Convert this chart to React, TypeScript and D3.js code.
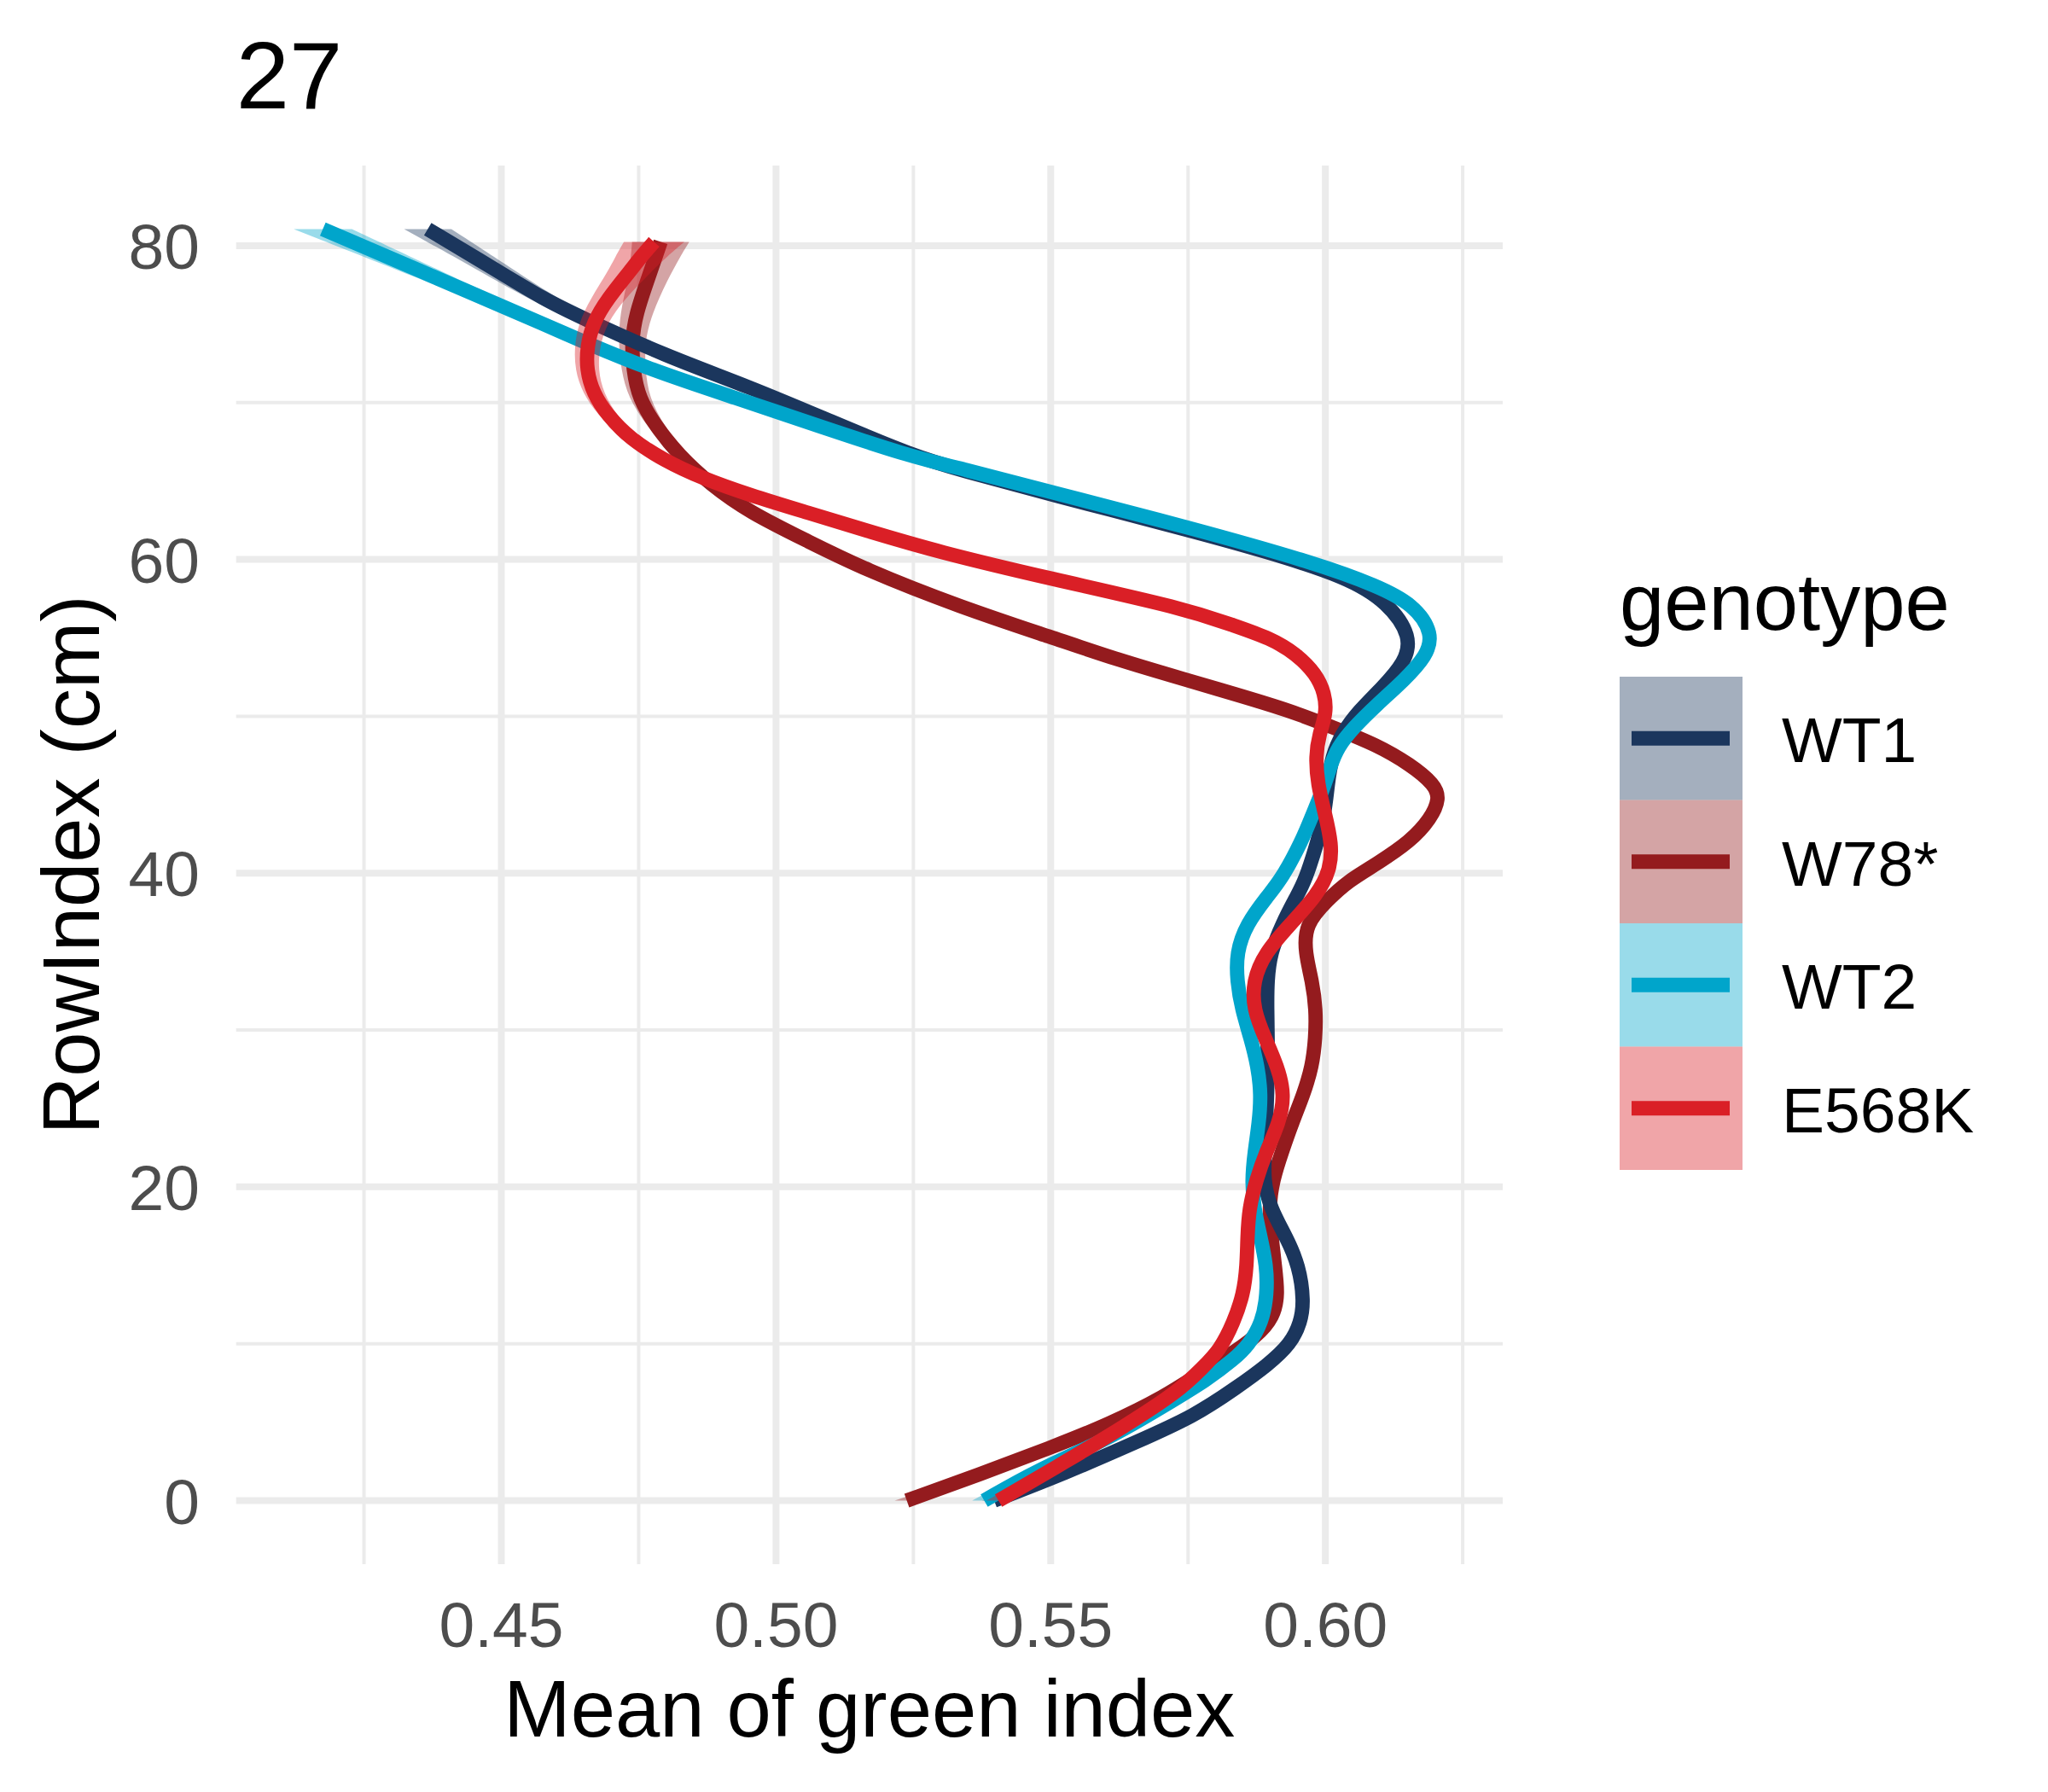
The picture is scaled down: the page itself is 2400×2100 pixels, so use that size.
import React from "react";
import * as d3 from "d3";

// ---- data: [RowIndex (cm), mean green index, ribbon half-width] ----
const WT1: [number, number, number][] = [
  [0, 0.5397, 0.0022], [1.76, 0.5527, 0.0016], [3.75, 0.5657, 0.0012], [5.4, 0.5762, 0.001],
  [7.2, 0.5838, 0.001], [8.64, 0.5895, 0.001], [10.0, 0.5937, 0.001], [11.36, 0.5955, 0.001],
  [12.7, 0.5961, 0.001], [14.98, 0.5952, 0.001], [16.79, 0.5929, 0.001], [18.62, 0.59, 0.001],
  [20.43, 0.5887, 0.001], [22.25, 0.589, 0.001], [24.06, 0.5892, 0.001], [25.87, 0.5894, 0.001],
  [27.68, 0.5895, 0.001], [29.49, 0.5895, 0.001], [31.3, 0.5894, 0.001], [33.12, 0.5894, 0.001],
  [34.93, 0.59, 0.001], [36.74, 0.5921, 0.001], [38.55, 0.5948, 0.001], [39.5, 0.5963, 0.001],
  [42.03, 0.5986, 0.001], [43.84, 0.5999, 0.001], [45.65, 0.6004, 0.001], [47.46, 0.6012, 0.001],
  [48.9, 0.603, 0.001], [50.36, 0.6061, 0.001], [51.8, 0.6103, 0.001], [53.44, 0.6145, 0.001],
  [55.07, 0.6157, 0.001], [57.25, 0.6114, 0.001], [58.88, 0.6041, 0.001], [60.6, 0.5884, 0.001],
  [61.8, 0.576, 0.001], [64.15, 0.55, 0.001], [65.7, 0.5336, 0.0011], [66.6, 0.525, 0.0012],
  [68.8, 0.51, 0.0014], [71.0, 0.4952, 0.0017], [73.0, 0.4797, 0.002], [75.5, 0.4641, 0.0024],
  [76.56, 0.4579, 0.0027], [78.44, 0.4491, 0.0033], [81.06, 0.4366, 0.0043],
];

const W78: [number, number, number][] = [
  [0, 0.5238, 0.0022], [1.67, 0.5371, 0.0016], [3.39, 0.5501, 0.0012], [4.84, 0.5605, 0.001],
  [6.65, 0.5709, 0.001], [8.1, 0.5771, 0.001], [9.1, 0.5818, 0.001], [10.45, 0.5875, 0.001],
  [11.72, 0.5906, 0.001], [13.17, 0.5914, 0.001], [14.98, 0.5908, 0.001], [16.8, 0.5902, 0.001],
  [18.62, 0.5897, 0.001], [20.43, 0.5904, 0.001], [22.25, 0.5921, 0.001], [24.06, 0.5939, 0.001],
  [25.87, 0.596, 0.001], [27.68, 0.5976, 0.001], [29.49, 0.5982, 0.001], [31.3, 0.5983, 0.001],
  [33.12, 0.5976, 0.001], [34.93, 0.5963, 0.001], [36.74, 0.5963, 0.001], [38.3, 0.6004, 0.001],
  [39.49, 0.6041, 0.001], [40.58, 0.6093, 0.001], [42.03, 0.6155, 0.001], [43.48, 0.6192, 0.001],
  [44.75, 0.6208, 0.001], [45.65, 0.6199, 0.001], [46.92, 0.6155, 0.001], [48.19, 0.6093, 0.001],
  [49.28, 0.6015, 0.001], [50.36, 0.5936, 0.001], [51.45, 0.5832, 0.001], [52.34, 0.5745, 0.001],
  [53.6, 0.5622, 0.001], [55.0, 0.5505, 0.001], [56.96, 0.5336, 0.001], [59.4, 0.5159, 0.001],
  [61.2, 0.5056, 0.001], [63.0, 0.4952, 0.001], [64.8, 0.488, 0.0011], [66.65, 0.4823, 0.0013],
  [68.5, 0.4781, 0.0016], [70.3, 0.475, 0.0019], [72.1, 0.474, 0.0022], [73.9, 0.4737, 0.0024],
  [75.65, 0.4745, 0.0029], [77.8, 0.4766, 0.0036], [79.33, 0.4781, 0.0045], [80.25, 0.479, 0.0052],
];

const WT2: [number, number, number][] = [
  [0, 0.5379, 0.0022], [1.94, 0.5475, 0.0016], [3.93, 0.5605, 0.0012], [6.1, 0.5709, 0.001],
  [7.74, 0.5786, 0.001], [9.0, 0.5833, 0.001], [9.9, 0.586, 0.001], [11.36, 0.5885, 0.001],
  [13.17, 0.5894, 0.001], [14.98, 0.5893, 0.001], [16.79, 0.5882, 0.001], [18.62, 0.587, 0.001],
  [20.4, 0.5866, 0.001], [22.21, 0.5871, 0.001], [24.06, 0.5879, 0.001], [25.87, 0.5883, 0.001],
  [27.68, 0.5877, 0.001], [29.49, 0.5864, 0.001], [31.3, 0.5848, 0.001], [33.12, 0.5839, 0.001],
  [34.93, 0.5838, 0.001], [36.74, 0.5856, 0.001], [38.55, 0.5895, 0.001], [39.67, 0.5921, 0.001],
  [42.03, 0.5957, 0.001], [43.84, 0.5978, 0.001], [45.65, 0.5999, 0.001], [46.9, 0.601, 0.001],
  [48.0, 0.6022, 0.001], [49.28, 0.6051, 0.001], [50.72, 0.6093, 0.001], [52.36, 0.6145, 0.001],
  [53.8, 0.6183, 0.001], [55.25, 0.6197, 0.001], [57.16, 0.616, 0.001], [58.33, 0.6093, 0.001],
  [59.69, 0.5989, 0.001], [61.97, 0.576, 0.001], [64.3, 0.55, 0.001], [65.8, 0.5336, 0.0011],
  [66.65, 0.5237, 0.0012], [68.46, 0.5082, 0.0013], [70.3, 0.4926, 0.0015], [72.1, 0.4771, 0.0018],
  [73.9, 0.4648, 0.002], [74.93, 0.4582, 0.0022], [76.8, 0.4458, 0.0028], [81.06, 0.4175, 0.0053],
];

const E568K: [number, number, number][] = [
  [0, 0.5405, 0.0022], [2.48, 0.5527, 0.0015], [4.66, 0.5631, 0.0012], [7.0, 0.5734, 0.001],
  [8.46, 0.5776, 0.001], [9.6, 0.5808, 0.001], [11.36, 0.5833, 0.001], [13.17, 0.5851, 0.001],
  [14.98, 0.5857, 0.001], [16.8, 0.5858, 0.001], [18.62, 0.5861, 0.001], [20.43, 0.5874, 0.001],
  [22.25, 0.5892, 0.001], [24.06, 0.5916, 0.001], [25.87, 0.5926, 0.001], [27.68, 0.5913, 0.001],
  [29.49, 0.589, 0.001], [31.3, 0.5869, 0.001], [33.12, 0.5868, 0.001], [34.93, 0.589, 0.001],
  [36.74, 0.5936, 0.001], [38.6, 0.5985, 0.001], [40.22, 0.6009, 0.001], [41.85, 0.6012, 0.001],
  [43.84, 0.5999, 0.001], [45.65, 0.5986, 0.001], [47.46, 0.5982, 0.001], [48.9, 0.5989, 0.001],
  [50.18, 0.6002, 0.001], [51.45, 0.5999, 0.001], [52.7, 0.5983, 0.001], [53.98, 0.5947, 0.001],
  [54.98, 0.59, 0.001], [55.8, 0.5832, 0.001], [56.87, 0.5745, 0.001], [58.77, 0.55, 0.001],
  [60.49, 0.5294, 0.001], [61.9, 0.5159, 0.001], [63.0, 0.5056, 0.001], [64.1, 0.4952, 0.001],
  [65.2, 0.4864, 0.0011], [66.3, 0.4797, 0.0012], [67.7, 0.4734, 0.0014], [69.2, 0.4693, 0.0017],
  [70.6, 0.4667, 0.0019], [72.1, 0.4655, 0.0021], [73.6, 0.4656, 0.0023], [75.1, 0.4667, 0.0026],
  [76.6, 0.4693, 0.0031], [78.37, 0.4734, 0.004], [79.33, 0.4755, 0.0047], [80.25, 0.4778, 0.0055],
];

const GENOTYPES = ["WT1", "W78*", "WT2", "E568K"];
const COLORS = ["#1B365D", "#941B1E", "#00A5CB", "#DA1F26"];
const SERIES = [WT1, W78, WT2, E568K];
const DRAW_ORDER = ["W78*", "WT1", "WT2", "E568K"];

const X_MAJOR = [0.45, 0.5, 0.55, 0.6];
const X_LABELS = ["0.45", "0.50", "0.55", "0.60"];
const X_MINOR = [0.425, 0.475, 0.525, 0.575, 0.625];
const Y_MAJOR = [0, 20, 40, 60, 80];
const Y_MINOR = [10, 30, 50, 70];

const TITLE = "27";
const X_TITLE = "Mean of green index";
const Y_TITLE = "RowIndex (cm)";
const LEGEND_TITLE = "genotype";

const FONT = "'Liberation Sans', Arial, Helvetica, sans-serif";

export default function App() {
  const W = 2400;
  const H = 2100;
  const P = { left: 276.7, right: 1761, top: 194, bottom: 1833 };
  const LW = 16.8;

  const all = SERIES.flat();
  const xMin = d3.min(all, (d) => d[1] - d[2]) as number;
  const xMax = d3.max(all, (d) => d[1] + d[2]) as number;
  const yMin = d3.min(all, (d) => d[0]) as number;
  const yMax = d3.max(all, (d) => d[0]) as number;
  const xe = (xMax - xMin) * 0.05;
  const ye = (yMax - yMin) * 0.05;

  const x = d3.scaleLinear().domain([xMin - xe, xMax + xe]).range([P.left, P.right]);
  const y = d3.scaleLinear().domain([yMin - ye, yMax + ye]).range([P.bottom, P.top]);

  const curve = d3.curveBasis;
  const line = d3
    .line<[number, number, number]>()
    .x((d) => x(d[1]))
    .y((d) => y(d[0]))
    .curve(curve);
  const area = d3
    .area<[number, number, number]>()
    .y((d) => y(d[0]))
    .x0((d) => x(d[1] - d[2]))
    .x1((d) => x(d[1] + d[2]))
    .curve(curve);

  const grid = "#EBEBEB";
  const tickColor = "#4D4D4D";

  // legend layout
  const LG = { x: 1898, keyTop: 793, keyW: 144, keyH: 144.5, labelX: 2088 };

  return (
    <svg
      width={W}
      height={H}
      viewBox={`0 0 ${W} ${H}`}
      style={{ position: "absolute", left: 0, top: 0, background: "#fff" }}
      fontFamily={FONT}
    >
      <rect x={0} y={0} width={W} height={H} fill="#fff" />
      {/* minor grid */}
      {X_MINOR.map((v) => (
        <line key={"xm" + v} x1={x(v)} x2={x(v)} y1={P.top} y2={P.bottom} stroke={grid} strokeWidth={4} />
      ))}
      {Y_MINOR.map((v) => (
        <line key={"ym" + v} x1={P.left} x2={P.right} y1={y(v)} y2={y(v)} stroke={grid} strokeWidth={4} />
      ))}
      {/* major grid */}
      {X_MAJOR.map((v) => (
        <line key={"xM" + v} x1={x(v)} x2={x(v)} y1={P.top} y2={P.bottom} stroke={grid} strokeWidth={8} />
      ))}
      {Y_MAJOR.map((v) => (
        <line key={"yM" + v} x1={P.left} x2={P.right} y1={y(v)} y2={y(v)} stroke={grid} strokeWidth={8} />
      ))}

      {/* smooths: ribbon then line per group */}
      {DRAW_ORDER.map((g) => {
        const i = GENOTYPES.indexOf(g);
        const data = SERIES[i];
        return (
          <g key={g}>
            <path d={area(data) || ""} fill={COLORS[i]} fillOpacity={0.4} stroke="none" />
            <path
              d={line(data) || ""}
              fill="none"
              stroke={COLORS[i]}
              strokeWidth={LW}
              strokeLinecap="butt"
              strokeLinejoin="round"
            />
          </g>
        );
      })}

      {/* axis tick labels */}
      {X_MAJOR.map((v, i) => (
        <text key={"xl" + v} x={x(v)} y={1930} textAnchor="middle" fontSize={75} fill={tickColor}>
          {X_LABELS[i]}
        </text>
      ))}
      {Y_MAJOR.map((v) => (
        <text key={"yl" + v} x={234} y={y(v) + 27} textAnchor="end" fontSize={75} fill={tickColor}>
          {String(v)}
        </text>
      ))}

      {/* axis titles */}
      <text x={(P.left + P.right) / 2} y={2035} textAnchor="middle" fontSize={94} fill="#000">
        {X_TITLE}
      </text>
      <text
        transform={`translate(116, ${(P.top + P.bottom) / 2}) rotate(-90)`}
        textAnchor="middle"
        fontSize={94}
        fill="#000"
      >
        {Y_TITLE}
      </text>

      {/* plot title */}
      <text x={P.left} y={127} fontSize={112} fill="#000">
        {TITLE}
      </text>

      {/* legend */}
      <text x={LG.x} y={738} fontSize={94} fill="#000">
        {LEGEND_TITLE}
      </text>
      {GENOTYPES.map((g, i) => {
        const top = LG.keyTop + i * LG.keyH;
        const cy = top + LG.keyH / 2;
        return (
          <g key={"lg" + g}>
            <rect x={LG.x} y={top} width={LG.keyW} height={LG.keyH} fill={COLORS[i]} fillOpacity={0.4} />
            <line x1={LG.x + 14} x2={LG.x + LG.keyW - 15} y1={cy} y2={cy} stroke={COLORS[i]} strokeWidth={17} />
            <text x={LG.labelX} y={cy + 28} fontSize={75} fill="#000">
              {g}
            </text>
          </g>
        );
      })}
    </svg>
  );
}
